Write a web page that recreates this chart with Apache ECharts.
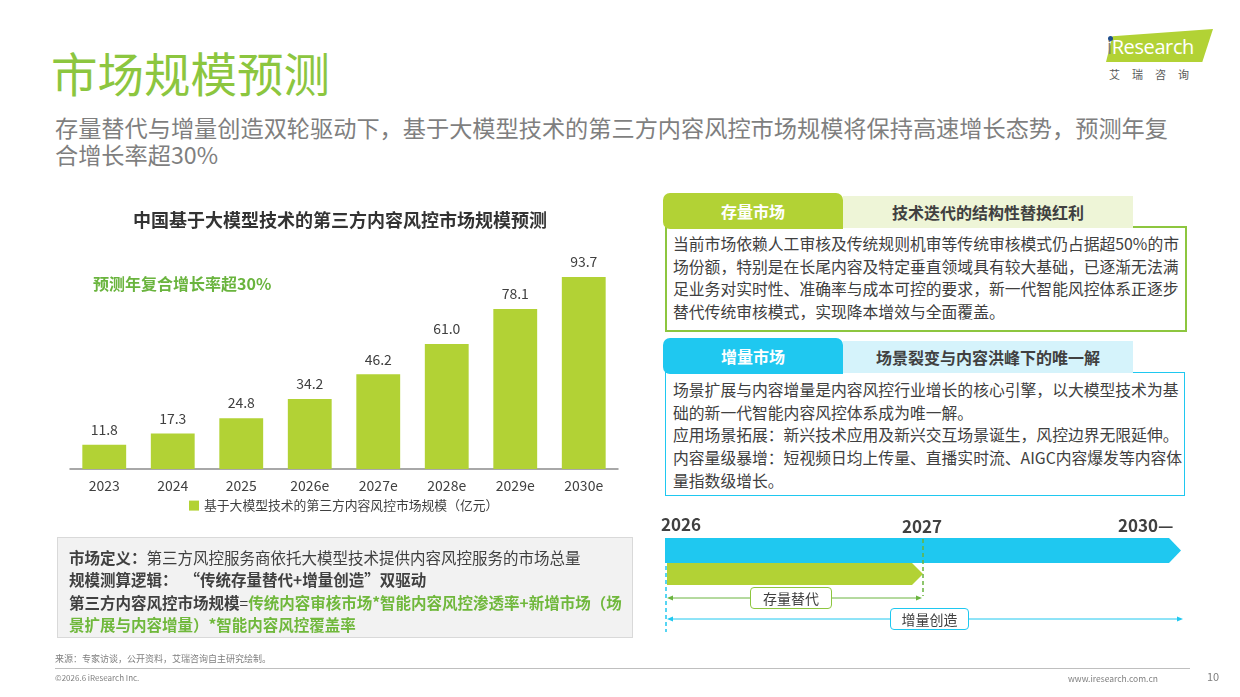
<!DOCTYPE html>
<html>
<head>
<meta charset="utf-8">
<script src="https://cdn.jsdelivr.net/npm/echarts@6/dist/echarts.min.js"></script>
<style>
body{margin:0;background:#fff;}
#page{position:relative;width:1240px;height:697px;overflow:hidden;background:#fff;
  font-family:"Noto Sans CJK SC","Noto Sans",sans-serif;color:#404040;}
.abs{position:absolute;white-space:nowrap;}
.title{left:51px;top:48px;font-size:46.5px;line-height:48px;color:#8cc63f;}
.subtitle{left:55px;top:114px;font-size:23.2px;line-height:27px;color:#7f7f7f;}
#chart{position:absolute;left:40px;top:190px;width:600px;height:340px;}
.logoBg{left:1106px;top:29px;width:107px;height:33px;background:#b2d235;
  clip-path:polygon(6% 22%,100% 0,90% 100%,0 100%);}
.logoTxt{left:1107px;top:35px;font-family:"Open Sans",sans-serif;font-size:20px;line-height:24px;color:#fff;letter-spacing:-0.4px;}
.logoTxt b{font-weight:400;color:#7f7f7f;}
.logoDot{left:1108px;top:36px;width:5px;height:5px;border-radius:50%;background:#1f4e8c;}
.logoCn{left:1109px;top:67px;font-size:11px;line-height:14px;color:#595959;letter-spacing:12px;}
.tab{height:36px;line-height:36px;font-size:16px;font-weight:bold;text-align:center;}
.tabMain{left:663px;width:180px;color:#fff;border-radius:7px 7px 0 7px;}
.tabSub{left:843px;width:290px;height:32px;line-height:32px;color:#404040;}
.body{left:665px;width:518px;background:#fff;}
.txt{font-size:15.8px;line-height:22.7px;color:#404040;}
.defbox{left:57px;top:537px;width:574px;height:99px;background:#f2f2f2;border:1px solid #d9d9d9;}
.def{left:69px;top:546px;font-size:15.5px;line-height:22.3px;color:#404040;}
.def b{color:#404040;}
.def .g{color:#70b83c;font-weight:bold;}
.tl{font-size:17px;font-weight:bold;color:#404040;line-height:20px;}
.tag{height:20px;line-height:20px;font-size:14px;text-align:center;background:#fff;border-radius:4px;color:#404040;}
.foot{font-size:9px;color:#7f7f7f;line-height:12px;}
</style>
</head>
<body>
<div id="page">
  <div class="abs title">市场规模预测</div>
  <div class="abs subtitle">存量替代与增量创造双轮驱动下，基于大模型技术的第三方内容风控市场规模将保持高速增长态势，预测年复<br>合增长率超30%</div>

  <div class="abs logoBg"></div>
  <div class="abs logoTxt"><b>i</b>Research</div>
  <div class="abs logoDot"></div>
  <div class="abs logoCn">艾瑞咨询</div>

  <div id="chart"></div>

  <!-- 存量市场 -->
  <div class="abs body" style="top:226px;height:102px;border:2px solid #8dc63f;"></div>
  <div class="abs tab tabSub" style="top:196px;background:#eef5d7;">技术迭代的结构性替换红利</div>
  <div class="abs tab tabMain" style="top:193px;background:#b2d235;">存量市场</div>
  <div class="abs txt" style="left:673px;top:233px;">当前市场依赖人工审核及传统规则机审等传统审核模式仍占据超50%的市<br>场份额，特别是在长尾内容及特定垂直领域具有较大基础，已逐渐无法满<br>足业务对实时性、准确率与成本可控的要求，新一代智能风控体系正逐步<br>替代传统审核模式，实现降本增效与全面覆盖。</div>

  <!-- 增量市场 -->
  <div class="abs body" style="top:372px;height:122px;border:1.5px solid #1fc8f0;"></div>
  <div class="abs tab tabSub" style="top:341px;background:#d5f3fb;">场景裂变与内容洪峰下的唯一解</div>
  <div class="abs tab tabMain" style="top:338px;background:#1fc8f0;">增量市场</div>
  <div class="abs txt" style="left:673px;top:379px;">场景扩展与内容增量是内容风控行业增长的核心引擎，以大模型技术为基<br>础的新一代智能内容风控体系成为唯一解。<br>应用场景拓展：新兴技术应用及新兴交互场景诞生，风控边界无限延伸。<br>内容量级暴增：短视频日均上传量、直播实时流、AIGC内容爆发等内容体<br>量指数级增长。</div>

  <!-- timeline -->
  <svg class="abs" style="left:0;top:0;" width="1240" height="697">
    <polygon points="665,538 1169,538 1181,550.5 1169,563 665,563" fill="#1fc8f0"/>
    <polygon points="667,563 912,563 923,574 912,585 667,585" fill="#b2d235"/>
    <line x1="923" y1="539" x2="923" y2="596" stroke="#6ab43e" stroke-width="1.5" stroke-dasharray="4,3"/>
    <line x1="666" y1="538" x2="666" y2="632" stroke="#1fc8f0" stroke-width="1.5" stroke-dasharray="4,3"/>
    <line x1="670" y1="598" x2="919" y2="598" stroke="#6ab43e" stroke-width="1"/>
    <polygon points="667,598 673,595.5 673,600.5" fill="#6ab43e"/>
    <polygon points="922,598 916,595.5 916,600.5" fill="#6ab43e"/>
    <line x1="670" y1="619" x2="1180" y2="619" stroke="#1fc8f0" stroke-width="1"/>
    <polygon points="667,619 673,616.5 673,621.5" fill="#1fc8f0"/>
    <polygon points="1183,619 1177,616.5 1177,621.5" fill="#1fc8f0"/>
  </svg>
  <div class="abs tl" style="left:661px;top:514px;">2026</div>
  <div class="abs tl" style="left:902px;top:516px;">2027</div>
  <div class="abs tl" style="left:1118px;top:515px;">2030—</div>
  <div class="abs tag" style="left:750px;top:587px;width:80px;border:1.5px solid #8dc63f;">存量替代</div>
  <div class="abs tag" style="left:890px;top:608px;width:77px;border:1.5px solid #1fc8f0;">增量创造</div>

  <!-- definition box -->
  <div class="abs defbox"></div>
  <div class="abs def"><b>市场定义：</b>第三方风控服务商依托大模型技术提供内容风控服务的市场总量<br><b>规模测算逻辑：&nbsp; “传统存量替代+增量创造”双驱动</b><br><b>第三方内容风控市场规模</b>=<span class="g">传统内容审核市场*智能内容风控渗透率+新增市场（场</span><br><span class="g">景扩展与内容增量）*智能内容风控覆盖率</span></div>

  <!-- footer -->
  <div class="abs foot" style="left:55px;top:653px;">来源：专家访谈，公开资料，艾瑞咨询自主研究绘制。</div>
  <div class="abs" style="left:55px;top:668px;width:1135px;height:1px;background:#bfbfbf;"></div>
  <div class="abs foot" style="left:55px;top:672px;font-size:8px;">©2026.6 iResearch Inc.</div>
  <div class="abs foot" style="left:1068px;top:672px;font-size:8.5px;">www.iresearch.com.cn</div>
  <div class="abs foot" style="left:1207px;top:669px;font-size:11px;line-height:14px;">10</div>
</div>

<script>
// 中国基于大模型技术的第三方内容风控市场规模（亿元）
var years = ['2023', '2024', '2025', '2026e', '2027e', '2028e', '2029e', '2030e']
var marketSize = [11.8, 17.3, 24.8, 34.2, 46.2, 61.0, 78.1, 93.7]
var seriesName = '基于大模型技术的第三方内容风控市场规模（亿元）'
var chartTitle = '中国基于大模型技术的第三方内容风控市场规模预测'
var cagrNote = '预测年复合增长率超30%'

var chart = echarts.init(document.getElementById('chart'))
chart.setOption({
  animation: false,
  textStyle: {fontFamily: '"Noto Sans CJK SC", sans-serif'},
  title: [
    {
      text: chartTitle,
      left: 'center',
      top: 16,
      textStyle: {fontSize: 18, fontWeight: 'bold', color: '#333333'}
    },
    {
      text: cagrNote,
      left: 48,
      top: 81,
      textStyle: {fontSize: 16, fontWeight: 'bold', color: '#6ab43e'}
    }
  ],
  legend: {
    data: [seriesName],
    bottom: 13,
    left: 144,
    itemWidth: 10,
    itemHeight: 10,
    itemGap: 4,
    icon: 'rect',
    textStyle: {fontSize: 12.8, color: '#404040'}
  },
  grid: {left: 30, right: 22, top: 74, bottom: 61},
  xAxis: {
    type: 'category',
    data: years,
    axisLine: {lineStyle: {color: '#8c8c8c', width: 1.5}},
    axisTick: {show: false},
    axisLabel: {fontSize: 14, color: '#404040', margin: 10}
  },
  yAxis: {
    type: 'value',
    min: 0,
    max: 100,
    show: false,
    splitLine: {show: false}
  },
  series: [{
    name: seriesName,
    type: 'bar',
    data: marketSize,
    barWidth: '64%',
    itemStyle: {color: '#b2d235'},
    label: {
      show: true,
      position: 'top',
      distance: 8,
      fontSize: 14,
      color: '#404040',
      formatter: function (p) { return p.value.toFixed(1) }
    }
  }]
})
</script>
</body>
</html>
